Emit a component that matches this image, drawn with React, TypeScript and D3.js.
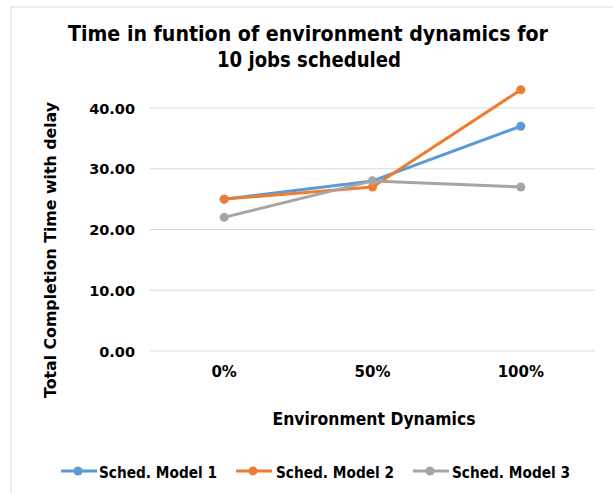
import React from "react";
import * as d3 from "d3";

const categories = ["0%", "50%", "100%"];
const seriesNames = ["Sched. Model 1", "Sched. Model 2", "Sched. Model 3"];
const model1 = [25, 28, 37];
const model2 = [25, 27, 43];
const model3 = [22, 28, 27];
const yTicks = [0, 10, 20, 30, 40];
const colors = ["#5B9BD5", "#ED7D31", "#A5A5A5"];

const W = 613;
const H = 493;
const FONT = "'DejaVu Sans', Verdana, sans-serif";

export default function App() {
  const x = d3.scalePoint<string>().domain(categories).range([150, 595]).padding(0.5);
  const y = d3.scaleLinear().domain([0, 40]).range([351, 108]);
  const series = [model1, model2, model3];
  const line = d3
    .line<number>()
    .x((_, i) => x(categories[i]) as number)
    .y((d) => y(d));

  const legendItems = [
    { lx: 61, tx: 99 },
    { lx: 236, tx: 276 },
    { lx: 413, tx: 452 },
  ];

  return (
    <svg
      width={W}
      height={H}
      style={{ position: "absolute", left: 0, top: 0, background: "#fff" }}
      fontFamily={FONT}
    >
      <rect x={11} y={7} width={W} height={H} fill="#fff" stroke="#D9D9D9" strokeWidth={1} />
      <text x={308} y={41} textAnchor="middle" fontSize={21} fontWeight="bold" fill="#000" textLength={480} lengthAdjust="spacingAndGlyphs">
        Time in funtion of environment dynamics for
      </text>
      <text x={309} y={67} textAnchor="middle" fontSize={21} fontWeight="bold" fill="#000" textLength={184} lengthAdjust="spacingAndGlyphs">
        10 jobs scheduled
      </text>
      {yTicks.map((t) => (
        <g key={t}>
          <line x1={150} x2={595} y1={y(t)} y2={y(t)} stroke="#D9D9D9" strokeWidth={1} />
          <text x={135} y={y(t) + 5.5} textAnchor="end" fontSize={14.5} fontWeight="bold" fill="#000">
            {t.toFixed(2)}
          </text>
        </g>
      ))}
      {categories.map((c) => (
        <text key={c} x={x(c)} y={377} textAnchor="middle" fontSize={15} fontWeight="bold" fill="#000">
          {c}
        </text>
      ))}
      <text x={374} y={425} textAnchor="middle" fontSize={17} fontWeight="bold" fill="#000" textLength={203} lengthAdjust="spacingAndGlyphs">
        Environment Dynamics
      </text>
      <text
        transform={`translate(56,250) rotate(-90)`}
        textAnchor="middle"
        fontSize={15.5}
        fontWeight="bold"
        fill="#000"
        textLength={296}
        lengthAdjust="spacingAndGlyphs"
      >
        Total Completion Time with delay
      </text>
      {series.map((s, si) => (
        <g key={si}>
          <path d={line(s) || ""} fill="none" stroke={colors[si]} strokeWidth={3} strokeLinejoin="round" />
          {s.map((v, i) => (
            <circle key={i} cx={x(categories[i])} cy={y(v)} r={4.5} fill={colors[si]} />
          ))}
        </g>
      ))}
      {legendItems.map((it, i) => (
        <g key={i}>
          <line x1={it.lx} x2={it.lx + 36} y1={471} y2={471} stroke={colors[i]} strokeWidth={3} />
          <circle cx={it.lx + 17} cy={471} r={4.5} fill={colors[i]} />
          <text x={it.tx} y={478} fontSize={15} fontWeight="bold" fill="#000" textLength={118} lengthAdjust="spacingAndGlyphs">
            {seriesNames[i]}
          </text>
        </g>
      ))}
    </svg>
  );
}
